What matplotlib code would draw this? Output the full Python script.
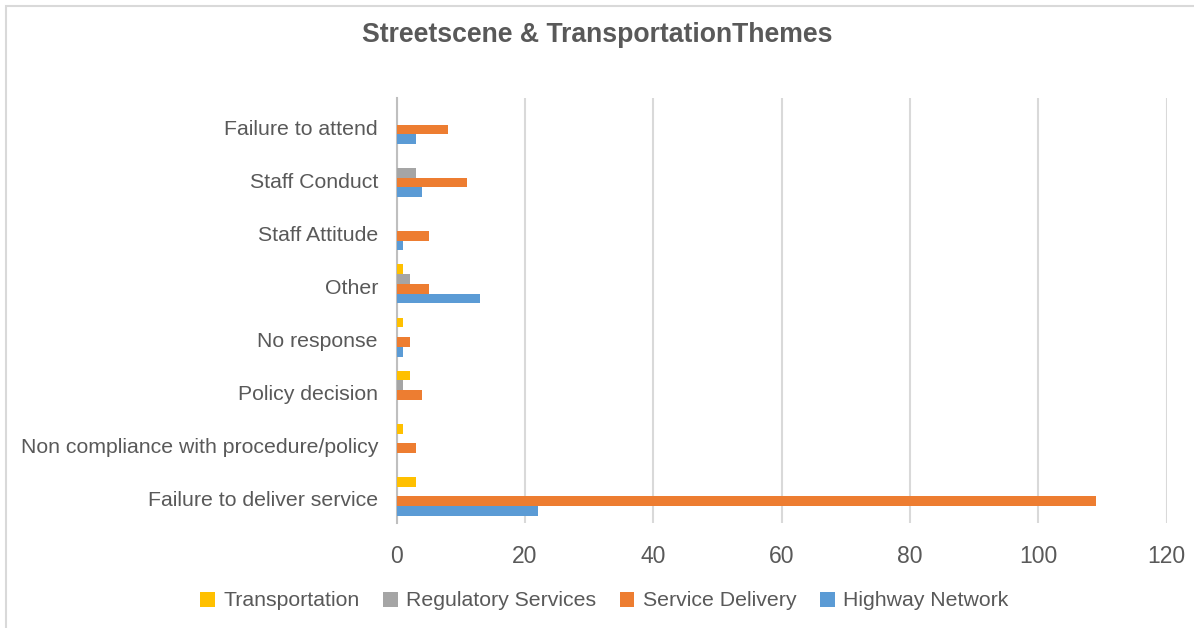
import numpy as np
import matplotlib.pyplot as plt
from matplotlib.patches import Rectangle
from matplotlib.transforms import ScaledTranslation

plt.rcParams['font.family'] = ['Liberation Sans', 'DejaVu Sans']

# Datos
categorias = ["Failure to deliver service", "Non compliance with procedure/policy",
              "Policy decision", "No response", "Other", "Staff Attitude",
              "Staff Conduct", "Failure to attend"]
highway = [22, 0, 0, 1, 13, 1, 4, 3]
service = [109, 3, 4, 2, 5, 5, 11, 8]
regulatory = [0, 0, 1, 0, 2, 0, 3, 0]
transport = [3, 1, 2, 1, 1, 0, 0, 0]

series = [("Highway Network", highway, "#5B9BD5"),
          ("Service Delivery", service, "#ED7D31"),
          ("Regulatory Services", regulatory, "#A5A5A5"),
          ("Transportation", transport, "#FFC000")]

texto = "#595959"
W, H = 1194, 628
fig = plt.figure(figsize=(W / 100, H / 100), dpi=100)

# marco del gráfico
fig.patches.append(Rectangle((5.5 / W, -0.1), 1.2, 1 - 6.5 / H + 0.1,
                             transform=fig.transFigure, fill=False,
                             edgecolor="#D9D9D9", linewidth=1.5))

ax = fig.add_axes([396.7 / W, 1 - 523 / H, (1166.7 - 396.7) / W, (523 - 98) / H])

y = np.arange(len(categorias))
h = 0.183
for i, (nombre, vals, color) in enumerate(series):
    ax.barh(y + (i - 1.5) * h, vals, height=h, color=color, label=nombre, zorder=3)

ax.set_xlim(0, 120)
ax.set_ylim(-0.5, len(categorias) - 0.5)
ax.set_xticks(np.arange(0, 121, 20))
ax.set_yticks(y)
ax.set_yticklabels(categorias)
ax.tick_params(axis='both', colors=texto, length=0)
ax.tick_params(axis='x', labelsize=16.5, pad=16)
ax.tick_params(axis='y', labelsize=15.3, pad=13.5)
# bajar un poco las etiquetas de categoría
desp = ScaledTranslation(0, -2.5 / 100, fig.dpi_scale_trans)
for lbl in ax.get_yticklabels():
    lbl.set_transform(lbl.get_transform() + desp)
ax.grid(axis='x', color="#D9D9D9", linewidth=1.5, zorder=0)
for s in ['top', 'right', 'bottom']:
    ax.spines[s].set_visible(False)
ax.spines['left'].set_color("#BFBFBF")
ax.spines['left'].set_linewidth(1.5)

fig.text(0.5, 1 - 35 / H, "Streetscene & TransportationThemes", ha='center', va='center',
         fontsize=19.2, fontweight='bold', color=texto)

handles, labels = ax.get_legend_handles_labels()
fig.legend(handles[::-1], labels[::-1], loc='center', bbox_to_anchor=(0.506, 1 - 601 / H),
           ncol=4, frameon=False, fontsize=15.3, labelcolor=texto,
           handlelength=0.7, handleheight=0.7, handletextpad=0.4, columnspacing=1.1)

plt.savefig('out.png', dpi=100)
